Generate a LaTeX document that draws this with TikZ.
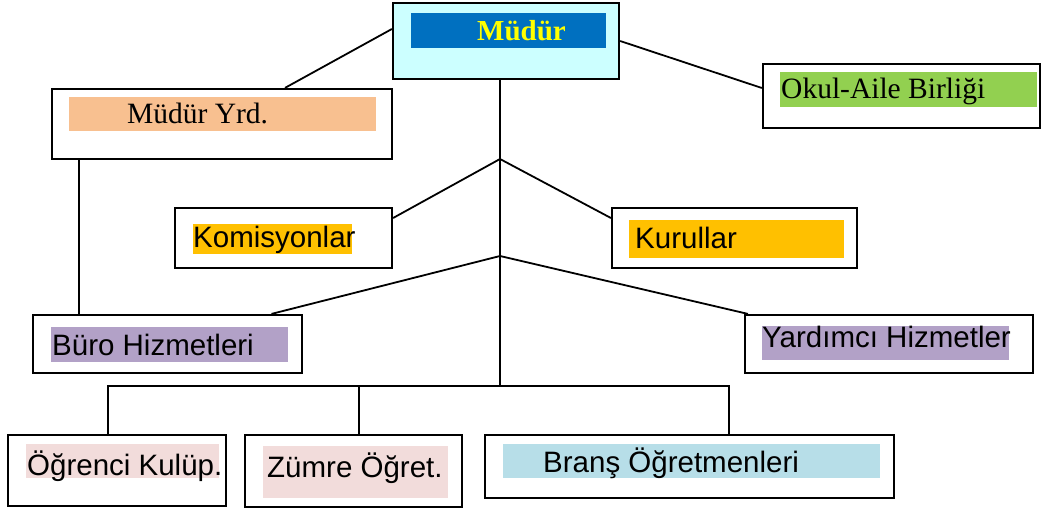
\documentclass[tikz,border=0pt]{standalone}
\usepackage{fontspec}
\usetikzlibrary{calc}
\newfontfamily\arialf{Liberation Sans}
\newfontfamily\timesf{Liberation Serif}
\definecolor{cyanbg}{HTML}{CCFFFF}
\definecolor{bluebar}{HTML}{0070C0}
\definecolor{yel}{HTML}{FFFF00}
\definecolor{peach}{HTML}{F8C090}
\definecolor{grn}{HTML}{92D050}
\definecolor{gold}{HTML}{FFC000}
\definecolor{lav}{HTML}{B2A1C7}
\definecolor{pinkbg}{HTML}{F2DCDB}
\definecolor{ltblue}{HTML}{B7DEE8}
\tikzset{
  box/.style={draw=black, line width=2.2pt, fill=white, inner sep=0pt, rectangle},
  conn/.style={draw=black, line width=1.8pt},
  sanslbl/.style={inner sep=0pt, anchor=base west, font=\arialf\fontsize{29.5}{34}\selectfont},
  seriflbl/.style={inner sep=0pt, anchor=base west, font=\timesf\fontsize{29.5}{34}\selectfont},
  boldlbl/.style={inner sep=0pt, anchor=base west, text=yel, font=\timesf\bfseries\fontsize{29}{34}\selectfont}
}
\begin{document}
\begin{tikzpicture}[x=1pt,y=-1pt]
\useasboundingbox (0,0) rectangle (1041,508);
% boxes
\node[box, fill=cyanbg, minimum width=226pt, minimum height=76pt] (mudur) at (506,41) {};
\fill[bluebar] (411,13) rectangle (606,48);
\node[boldlbl] (mudurt) at (477,41) {Müdür};

\node[box, minimum width=340pt, minimum height=70pt] (yrd) at (222,124) {};
\fill[peach] (69,97) rectangle (376,131);
\node[seriflbl] (yrdt) at (127,124) {Müdür Yrd.};

\node[box, minimum width=277pt, minimum height=64pt] (okul) at (901.5,96) {};
\fill[grn] (780,72) rectangle (1037,107);
\node[seriflbl] (okult) at (781,99) {Okul-Aile Birliği};

\node[box, minimum width=217pt, minimum height=60pt] (kom) at (283.5,238) {};
\fill[gold] (193,224) rectangle (352,254);
\node[sanslbl] (komt) at (193,247) {Komisyonlar};

\node[box, minimum width=245pt, minimum height=60pt] (kur) at (734.5,238) {};
\fill[gold] (629,220) rectangle (844,258);
\node[sanslbl] (kurt) at (635,248) {Kurullar};

\node[box, minimum width=269pt, minimum height=58pt] (buro) at (167.5,344) {};
\fill[lav] (51,327) rectangle (288,362);
\node[sanslbl] (burot) at (52,355) {Büro Hizmetleri};

\node[box, minimum width=288pt, minimum height=58pt] (yard) at (889,344) {};
\fill[lav] (762,326) rectangle (1009,360);
\node[sanslbl] (yardt) at (762,347) {Yardımcı Hizmetler};

\node[box, minimum width=218pt, minimum height=71pt] (ogr) at (117,470.5) {};
\fill[pinkbg] (26,444) rectangle (219,478);
\node[sanslbl] (ogrt) at (27,475) {Öğrenci Kulüp.};

\node[box, minimum width=217pt, minimum height=72pt] (zum) at (353.5,471) {};
\fill[pinkbg] (263,446) rectangle (448,498);
\node[sanslbl] (zumt) at (267,477) {Zümre Öğret.};

\node[box, minimum width=409pt, minimum height=63pt] (bra) at (689.5,466.5) {};
\fill[ltblue] (503,444) rectangle (880,478);
\node[sanslbl] (brat) at (543,472) {Branş Öğretmenleri};

% coordinates
\coordinate (b1) at (500,159);
\coordinate (b2) at (500,256);
\coordinate (b3) at (500,386);
\coordinate (yv) at ($(yrd.south west)+(28,0)$);
\coordinate (zv) at ($(zum.north)+(5.5,0)$);

% connectors
\draw[conn] ($(mudur.west)+(0,-12)$) -- ($(yrd.north)+(63,0)$);
\draw[conn] (mudur.east) -- ($(okul.west)+(0,-8)$);
\draw[conn] ($(mudur.south)+(-6,0)$) -- (b3);
\draw[conn] ($(kom.east)+(0,-20)$) -- (b1) -- ($(kur.west)+(0,-20)$);
\draw[conn] ($(buro.north)+(104,0)$) -- (b2) -- ($(yard.north west)+(4,0)$);
\draw[conn] (yv) -- (yv |- buro.north);
\draw[conn] ($(ogr.north)+(-9,0)$) |- (b3) -| ($(bra.north)+(39.5,0)$);
\draw[conn] (zv) -- (zv |- b3);
\end{tikzpicture}
\end{document}
